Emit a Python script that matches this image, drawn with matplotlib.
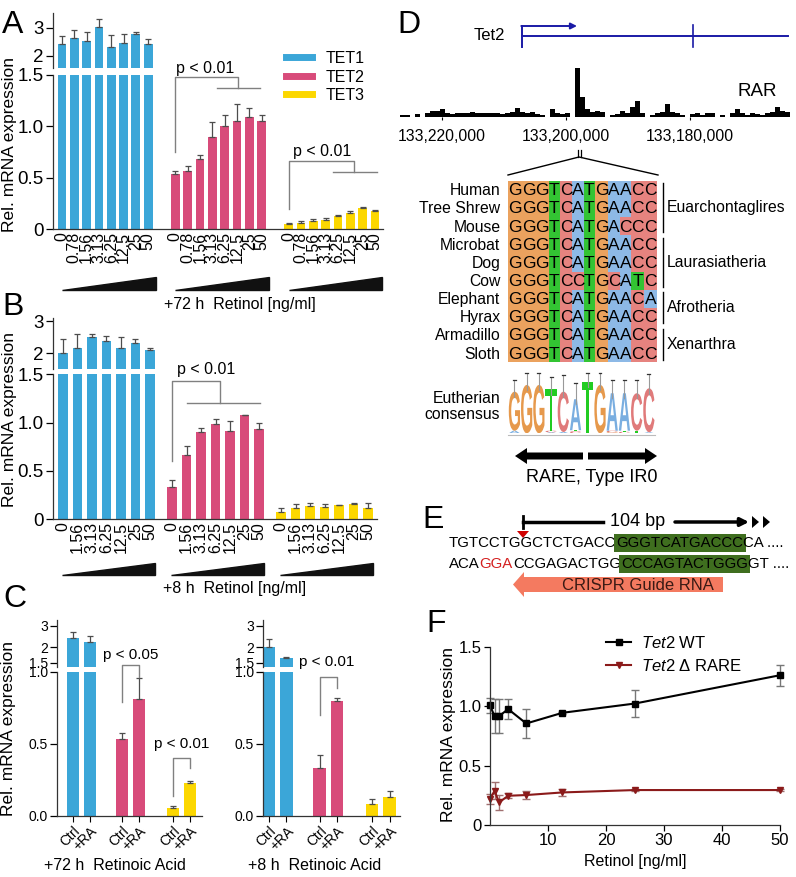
import numpy as np
import matplotlib
matplotlib.use("Agg")
import matplotlib.pyplot as plt
from matplotlib.patches import Rectangle, Polygon, PathPatch, FancyArrow
from matplotlib.lines import Line2D
from matplotlib.textpath import TextPath
from matplotlib.font_manager import FontProperties
from matplotlib.transforms import Affine2D, blended_transform_factory
from matplotlib.ticker import NullLocator

plt.rcParams["font.family"] = "Liberation Sans"
plt.rcParams["mathtext.fontset"] = "custom"
plt.rcParams["mathtext.it"] = "Liberation Sans:italic"
plt.rcParams["mathtext.rm"] = "Liberation Sans"
plt.rcParams["axes.linewidth"] = 0.9
plt.rcParams["axes.edgecolor"] = "#333333"

W, H = 796, 877

# ---------------- data ----------------
conc_a = ["0", "0.78", "1.56", "3.13", "6.25", "12.5", "25", "50"]
a_tet1 = [2.37, 2.57, 2.47, 3.04, 2.27, 2.41, 2.75, 2.38]
a_tet1_err = [0.29, 0.33, 0.34, 0.35, 0.45, 0.35, 0.06, 0.16]
a_tet2 = [0.534, 0.57, 0.68, 0.90, 1.00, 1.055, 1.09, 1.05]
a_tet2_err = [0.035, 0.04, 0.04, 0.14, 0.11, 0.16, 0.09, 0.06]
a_tet3 = [0.052, 0.065, 0.084, 0.094, 0.126, 0.162, 0.21, 0.175]
a_tet3_err = [0.01, 0.015, 0.012, 0.015, 0.012, 0.012, 0.008, 0.012]

conc_b = ["0", "1.56", "3.13", "6.25", "12.5", "25", "50"]
b_tet1 = [2.02, 2.15, 2.47, 2.34, 2.14, 2.29, 2.08]
b_tet1_err = [0.37, 0.39, 0.07, 0.15, 0.31, 0.10, 0.07]
b_tet2 = [0.33, 0.665, 0.90, 0.99, 0.91, 1.076, 0.93]
b_tet2_err = [0.08, 0.095, 0.05, 0.05, 0.11, 0.007, 0.07]
b_tet3 = [0.076, 0.114, 0.138, 0.124, 0.145, 0.162, 0.117]
b_tet3_err = [0.038, 0.045, 0.034, 0.035, 0.007, 0.004, 0.049]

c_labels = ["Ctrl", "+RA"] * 3
c72_vals = [2.37, 2.22, 0.533, 0.81, 0.053, 0.229]
c72_err = [0.28, 0.27, 0.039, 0.144, 0.012, 0.011]
c8_vals = [2.0, 1.63, 0.333, 0.796, 0.079, 0.127]
c8_err = [0.35, 0.03, 0.087, 0.024, 0.037, 0.047]

tet_names = ["TET1", "TET2", "TET3"]
tet_colors = ["#3BA6D8", "#D84B7A", "#FCD700"]

# RAR ChIP signal, left to right across the track (arbitrary units)
rar_signal = [5, 5, 0, 8, 0, 10, 18, 16, 22, 12, 8, 10, 12, 10, 14, 12, 12,
              10, 12, 10, 9, 12, 14, 25, 14, 10, 13, 9, 6, 0, 22, 10, 9, 12,
              0, 145, 60, 22, 14, 16, 14, 0, 6, 8, 16, 10, 30, 48, 12, 0, 6,
              12, 14, 38, 14, 10, 6, 0, 8, 10, 6, 12, 10, 0, 6, 0, 10, 22,
              10, 4, 10, 8, 6, 12, 14, 28, 18, 14]
genome_ticks = [133220000, 133200000, 133180000]

species = ["Human", "Tree Shrew", "Mouse", "Microbat", "Dog", "Cow",
           "Elephant", "Hyrax", "Armadillo", "Sloth"]
sequences = ["GGGTCATGAACC", "GGGTCATGAACC", "GGGTCATGACCC", "GGGTCATGAACC",
             "GGGTCATGAACC", "GGGTCCTGCATC", "GGGTCATGAACA", "GGGTCATGAACC",
             "GGGTCATGAACC", "GGGTCATGAACC"]
clades = [("Euarchontaglires", 0, 2), ("Laurasiatheria", 3, 5),
          ("Afrotheria", 6, 7), ("Xenarthra", 8, 9)]

# sequence logo: stacks bottom -> top as (letter, bits); error bar tops
logo_stacks = [[("A", 0.1), ("G", 1.5)], [("G", 1.86)], [("G", 1.86)],
               [("A", 0.04), ("C", 0.06), ("T", 1.59)], [("A", 0.05), ("C", 1.55)],
               [("C", 0.08), ("T", 0.04), ("A", 1.19)], [("T", 1.98)], [("G", 1.86)],
               [("G", 0.04), ("C", 0.06), ("A", 1.44)], [("C", 0.06), ("T", 0.04), ("A", 1.44)],
               [("T", 0.1), ("C", 1.44)], [("A", 0.04), ("C", 1.69)]]
logo_err_top = [2.05, 2.31, 2.31, 2.18, 2.24, 1.92, 2.31, 2.31, 2.05, 2.05, 2.05, 2.28]

retinol = [0, 0.78, 1.56, 3.13, 6.25, 12.5, 25, 50]
wt = [1.006, 0.916, 0.916, 0.975, 0.854, 0.944, 1.022, 1.26]
wt_err = [0.065, 0.145, 0.145, 0.085, 0.12, 0.01, 0.11, 0.09]
drare = [0.218, 0.288, 0.19, 0.246, 0.252, 0.274, 0.294, 0.294]
drare_err = [0.04, 0.07, 0.06, 0.02, 0.03, 0.03, 0.01, 0.01]

base_cell = {"G": "#EBA25E", "T": "#33C433", "C": "#E6837F", "A": "#8DB9E6"}
base_logo = {"G": "#E6994C", "T": "#22CC22", "C": "#E07A7A", "A": "#7AAEE0"}
arial_w = {"G": 0.778, "T": 0.611, "C": 0.722, "A": 0.667}

fig = plt.figure(figsize=(W / 100, H / 100), dpi=100)


def add_ax(x0, y0, x1, y1):
    """Axes from pixel box (y measured from the top)."""
    ax = fig.add_axes([x0 / W, 1 - y1 / H, (x1 - x0) / W, (y1 - y0) / H])
    ax.set_facecolor("none")
    return ax


def ftext(x, y, s, **kw):
    return fig.text(x / W, 1 - y / H, s, **kw)


def broken_bars(xl, xr, up_box, lo_box, up_lim, lo_lim, pos, vals, errs, cols,
                xlim, width, ytick_fs, lo_ticks, lo_labels, up_ticks):
    ax_up = add_ax(xl, up_box[0], xr, up_box[1])
    ax_lo = add_ax(xl, lo_box[0], xr, lo_box[1])
    vals = np.asarray(vals, float)
    errs = np.asarray(errs, float)
    yerr = [np.zeros_like(errs), errs]
    ekw = dict(ecolor="#4d4d4d", elinewidth=0.9, capsize=2.2, capthick=0.9)
    ax_lo.bar(pos, vals, width, color=cols, yerr=yerr, error_kw=ekw)
    ax_up.set_yscale("log")
    ax_up.bar(pos, vals - 1, width, bottom=1, color=cols, yerr=yerr, error_kw=ekw)
    ax_up.set_ylim(*up_lim)
    ax_lo.set_ylim(*lo_lim)
    for ax in (ax_up, ax_lo):
        ax.set_xlim(*xlim)
        ax.spines[["top", "right"]].set_visible(False)
        ax.tick_params(axis="y", length=5, width=0.9, labelsize=ytick_fs, pad=1.5)
    ax_up.spines["bottom"].set_visible(False)
    ax_up.tick_params(axis="x", bottom=False, labelbottom=False)
    ax_up.yaxis.set_minor_locator(NullLocator())
    ax_up.set_yticks(up_ticks)
    ax_up.set_yticklabels([f"{t:g}" for t in up_ticks])
    ax_lo.set_yticks(lo_ticks)
    ax_lo.set_yticklabels(lo_labels)
    return ax_up, ax_lo


def bracket(ax, xl, yl, ytop, xr, yr, span, text, txy, fs):
    g = "#808080"
    ax.plot([xl, xl, xr, xr], [yl, ytop, ytop, yr], color=g, lw=1, clip_on=False)
    ax.plot(span, [yr, yr], color=g, lw=1, clip_on=False)
    ax.text(txy[0], txy[1], text, ha="center", va="center", fontsize=fs)


def wedges(ax, starts, length, yb, yt):
    tr = blended_transform_factory(ax.transData, ax.transAxes)
    for s in starts:
        ax.add_patch(Polygon([(s, yb), (s + length, yb), (s + length, yt)],
                             closed=True, color="#111111", transform=tr,
                             clip_on=False))


# ---------------- panel A ----------------
step_a = 9.2
pos_a = np.concatenate([g * step_a + np.arange(8) for g in range(3)])
cols_a = [c for c in tet_colors for _ in range(8)]
upA, loA = broken_bars(53, 383, (13.3, 68), (74.8, 229.3), (1.676, 3.70), (0, 1.5),
                       pos_a, a_tet1 + a_tet2 + a_tet3,
                       a_tet1_err + a_tet2_err + a_tet3_err, cols_a,
                       (-0.73, 26.05), 0.72, 13.5, [0, 0.5, 1.0, 1.5],
                       ["0", "0.5", "1.0", "1.5"], [2, 3])
loA.set_xticks(pos_a)
loA.set_xticklabels(conc_a * 3, rotation=90, fontsize=11.5)
loA.tick_params(axis="x", length=0, pad=2)
wedges(loA, [g * step_a for g in range(3)], 7.6, -0.393, -0.309)
bracket(loA, 9.2, 0.75, 1.48, 14.3, 1.37, [12.6, 16.1], "p < 0.01", (11.6, 1.56), 11.5)
bracket(loA, 18.4, 0.2, 0.66, 23.7, 0.56, [22.0, 25.6], "p < 0.01", (21.1, 0.755), 11.5)
loA.legend([Line2D([], [], color=c, lw=5) for c in tet_colors], tet_names,
           loc="upper left", bbox_to_anchor=(286 / W, 1 - 51 / H),
           bbox_transform=fig.transFigure, frameon=False, fontsize=11.5,
           handlelength=1.6, handletextpad=0.9, labelspacing=0.22,
           borderpad=0, borderaxespad=0)
ftext(240, 305, "+72 h  Retinol [ng/ml]", ha="center", va="center", fontsize=11.5)
ftext(10, 145, "Rel. mRNA expression", rotation=90, ha="center", va="center", fontsize=12.5)

# ---------------- panel B ----------------
step_b = 7.52
pos_b = np.concatenate([g * step_b + np.arange(7) for g in range(3)])
cols_b = [c for c in tet_colors for _ in range(7)]
upB, loB = broken_bars(53, 377, (318, 369), (374.4, 519.3), (1.64, 3.126), (0, 1.5),
                       pos_b, b_tet1 + b_tet2 + b_tet3,
                       b_tet1_err + b_tet2_err + b_tet3_err, cols_b,
                       (-0.69, 21.66), 0.68, 13.5, [0, 0.5, 1.0, 1.5],
                       ["0", "0.5", "1.0", "1.5"], [2, 3])
loB.set_xticks(pos_b)
loB.set_xticklabels(conc_b * 3, rotation=90, fontsize=11.5)
loB.tick_params(axis="x", length=0, pad=2)
wedges(loB, [g * step_b - 0.05 for g in range(3)], 6.4, -0.384, -0.302)
bracket(loB, 7.52, 0.6, 1.43, 10.8, 1.2, [8.55, 13.6], "p < 0.01", (9.9, 1.55), 11.5)
ftext(235, 588, "+8 h  Retinol [ng/ml]", ha="center", va="center", fontsize=11.5)
ftext(10, 420, "Rel. mRNA expression", rotation=90, ha="center", va="center", fontsize=12.5)

# ---------------- panel C ----------------
pos_c = np.array([0, 1, 2.9, 3.9, 5.9, 6.9])
cols_c = [c for c in tet_colors for _ in range(2)]
for xl, xr, xlim, vals, errs, xlab, xc in [
        (57, 202, (-0.94, 7.59), c72_vals, c72_err, "+72 h  Retinoic Acid", 115),
        (263, 400, (-0.34, 7.49), c8_vals, c8_err, "+8 h  Retinoic Acid", 315)]:
    upC, loC = broken_bars(xl, xr, (620, 667), (671.7, 815.7), (1.38, 3.34), (0, 1.0),
                           pos_c, vals, errs, cols_c, xlim, 0.72, 10,
                           [0, 0.5, 1.0], ["0.0", "0.5", "1.0"], [1.5, 2, 3])
    loC.set_xticks(pos_c)
    loC.set_xticklabels(c_labels, rotation=45, ha="right", rotation_mode="anchor",
                        fontsize=10)
    loC.tick_params(axis="x", length=4, pad=2)
    ftext(xc, 866, xlab, ha="center", va="center", fontsize=11.5)
    if xl < 100:
        bracket(loC, 2.9, 0.79, 1.05, 3.9, 0.96, [3.9, 3.9], "p < 0.05", (3.41, 1.116), 11)
        bracket(loC, 5.9, 0.14, 0.40, 6.9, 0.33, [6.9, 6.9], "p < 0.01", (6.4, 0.495), 11)
    else:
        bracket(loC, 2.9, 0.70, 0.965, 3.9, 0.89, [3.9, 3.9], "p < 0.01", (3.31, 1.065), 11)
ftext(9, 728, "Rel. mRNA expression", rotation=90, ha="center", va="center", fontsize=12.5)

# ---------------- panel D: track ----------------
g_left, g_right = 133226774, 133163871
axT = add_ax(400, 66.7, 790, 116.7)
edges = np.linspace(g_right, g_left, len(rar_signal) + 1)
axT.stairs(rar_signal[::-1], edges, fill=True, color="black")
axT.set_xlim(g_left, g_right)
axT.set_ylim(0, 150)
axT.set_yticks([])
for s in axT.spines.values():
    s.set_visible(False)
axT.set_xticks(genome_ticks)
axT.set_xticklabels([f"{t:,}" for t in genome_ticks], fontsize=11.3)
axT.tick_params(axis="x", length=2, pad=7)

# ---------------- panel D: alignment ----------------
col_w = [arial_w[b] for b in sequences[0]]
col_x = np.concatenate([[0], np.cumsum(col_w)])
axL = add_ax(508.3, 180.7, 656.7, 362.3)
axL.set_xlim(0, col_x[-1])
axL.set_ylim(len(species), 0)
axL.axis("off")
for r, (name, seq) in enumerate(zip(species, sequences)):
    for c, b in enumerate(seq):
        axL.add_patch(Rectangle((col_x[c], r), col_w[c], 1, color=base_cell[b], lw=0))
        axL.text(col_x[c] + col_w[c] / 2, r + 0.55, b, ha="center", va="center",
                 fontsize=12.5)
    axL.text(-0.45, r + 0.55, name, ha="right", va="center", fontsize=11.3)
for name, r0, r1 in clades:
    axL.plot([8.86, 8.86], [r0 + 0.15, r1 + 0.85], color="black", lw=1, clip_on=False)
    axL.text(9.09, (r0 + r1 + 1) / 2, name, ha="left", va="center", fontsize=11.3)

# ---------------- panel D: logo ----------------
fp_logo = FontProperties(family="Liberation Sans", weight="bold")
axG = add_ax(508.3, 367, 655, 433.3)
axG.set_xlim(0, 12)
axG.set_ylim(0, 2.55)
axG.axis("off")
for c, stack in enumerate(logo_stacks):
    y = 0
    for b, h in stack:
        tp = TextPath((0, 0), b, size=1, prop=fp_logo)
        bb = tp.get_extents()
        tr = (Affine2D().translate(-bb.x0, -bb.y0)
              .scale(0.92 / bb.width, h / bb.height).translate(c + 0.04, y))
        axG.add_patch(PathPatch(tr.transform_path(tp), fc=base_logo[b], ec="none"))
        y += h
    axG.plot([c + 0.5, c + 0.5], [y - 0.2, logo_err_top[c]], color="#999999", lw=0.8)
    axG.plot([c + 0.38, c + 0.62], [logo_err_top[c]] * 2, color="#333333", lw=0.9)
axG.plot([0, 12], [-0.08, -0.08], color="#bbbbbb", lw=0.8, clip_on=False)
ftext(500, 398, "Eutherian", ha="right", va="center", fontsize=11.3)
ftext(500, 415, "consensus", ha="right", va="center", fontsize=11.3)

# ---------------- panel F ----------------
axF = add_ax(490, 646.7, 780, 825)
red = "#8B1A1A"
for ys, es, col, mk, ec in [(wt, wt_err, "black", "s", "#777777"),
                            (drare, drare_err, red, "v", "#a07070")]:
    cont = axF.errorbar(retinol, ys, yerr=es, color=col, marker=mk, ms=5, lw=1.5,
                        ecolor=ec, elinewidth=1, capsize=3)
    for art in cont.get_children():
        art.set_clip_on(False)
axF.set_xlim(0, 50)
axF.set_ylim(0, 1.5)
axF.set_xticks([10, 20, 30, 40, 50])
axF.set_yticks([0, 0.5, 1.0, 1.5])
axF.set_yticklabels(["0", "0.5", "1.0", "1.5"])
axF.spines[["top", "right"]].set_visible(False)
axF.tick_params(length=4, width=0.9, labelsize=12, pad=2)
axF.set_xlabel("Retinol [ng/ml]", fontsize=11.5, labelpad=4)
ftext(448, 734, "Rel. mRNA expression", rotation=90, ha="center", va="center", fontsize=12.5)
axF.legend([Line2D([], [], color="black", marker="s", ms=5, lw=1.5),
            Line2D([], [], color=red, marker="v", ms=5, lw=1.5)],
           [r"$\it{Tet2}$ WT", r"$\it{Tet2}$ Δ RARE"],
           loc="upper left", bbox_to_anchor=(606 / W, 1 - 635 / H),
           bbox_transform=fig.transFigure, frameon=False, fontsize=12,
           handlelength=1.5, handletextpad=0.6, labelspacing=0.4,
           borderpad=0, borderaxespad=0)

# ---------------- overlay: annotations in pixel space ----------------
ov = fig.add_axes([0, 0, 1, 1])
ov.set_xlim(0, W)
ov.set_ylim(H, 0)
ov.axis("off")

# gene model
blue = "#1A1AA6"
ov.plot([522, 522], [26, 47], color=blue, lw=1.4)
ov.plot([522, 788], [36, 36], color=blue, lw=1.4)
ov.plot([693, 693], [25, 47], color=blue, lw=1.2)
ov.annotate("", xy=(577, 26), xytext=(521.3, 26),
            arrowprops=dict(arrowstyle="-|>", color=blue, lw=1.4, mutation_scale=9,
                            shrinkA=0, shrinkB=0))
ov.text(505, 35, "Tet2", ha="right", va="center", fontsize=12)
ov.text(757, 92, "RAR", ha="center", va="center", fontsize=13.5)

# zoom lines
ov.plot([578, 578], [150, 157], color="black", lw=0.9)
ov.plot([580.5, 580.5], [150, 157], color="black", lw=0.9)
ov.plot([508, 579, 658], [175, 157, 175], color="black", lw=1)

# RARE arrows
for x0, dx in [(583, -68), (588, 69)]:
    ov.add_patch(FancyArrow(x0, 456, dx, 0, width=7, head_width=16, head_length=12,
                            length_includes_head=True, color="black", lw=0))
ov.text(592, 477, "RARE, Type IR0", ha="center", va="center", fontsize=13)

# panel E
ov.plot([523, 523], [516, 528], color="black", lw=2)
ov.plot([523, 603], [522, 522], color="black", lw=2.5)
ov.text(638, 522, "104 bp", ha="center", va="center", fontsize=13)
ov.annotate("", xy=(749, 522), xytext=(675, 522),
            arrowprops=dict(arrowstyle="-|>", color="black", lw=2.5, mutation_scale=12,
                            shrinkA=0, shrinkB=0))
for xt in [752, 763]:
    ov.add_patch(Polygon([(xt, 516), (xt, 528), (xt + 7, 522)], color="black", lw=0))
ov.add_patch(Polygon([(517, 531), (529, 531), (523, 538)], color="#D00000", lw=0))

green = "#3F6E1F"
seq_fs = 10.8
lines_e = [
    [("TGTCCTGGCTCTGACC", "black", None), ("GGGTCATGACCC", "black", green),
     ("CA ....", "black", None)],
    [("ACA", "black", None), ("GGA", "#D42020", None), ("CCGAGACTGG", "black", None),
     ("CCCAGTACTGGG", "black", green), ("GT ....", "black", None)],
]
for y, pieces in zip([543, 564], lines_e):
    prev = None
    for s, col, bg in pieces:
        bb = dict(boxstyle="square,pad=0.16", fc=bg, ec="none") if bg else None
        if prev is None:
            prev = ov.text(449, y, s, color=col, fontsize=seq_fs, ha="left",
                           va="center", bbox=bb)
        else:
            prev = ov.annotate(s, xy=(1, 0), xycoords=prev, ha="left", va="bottom",
                               color=col, fontsize=seq_fs, bbox=bb)

ov.add_patch(FancyArrow(723, 584.5, -210, 0, width=15, head_width=25, head_length=11,
                        length_includes_head=True, color="#F47A60", lw=0))
ov.text(638, 585, "CRISPR Guide RNA", ha="center", va="center", fontsize=12,
        color="#3a1a14")

# panel letters
for letter, x, y in [("A", 2, 33), ("B", 2, 315), ("C", 3, 607), ("D", 397, 33),
                     ("E", 422, 528), ("F", 426, 632)]:
    ov.text(x, y, letter, ha="left", va="baseline", fontsize=23)

fig.savefig("out.png", dpi=100)
